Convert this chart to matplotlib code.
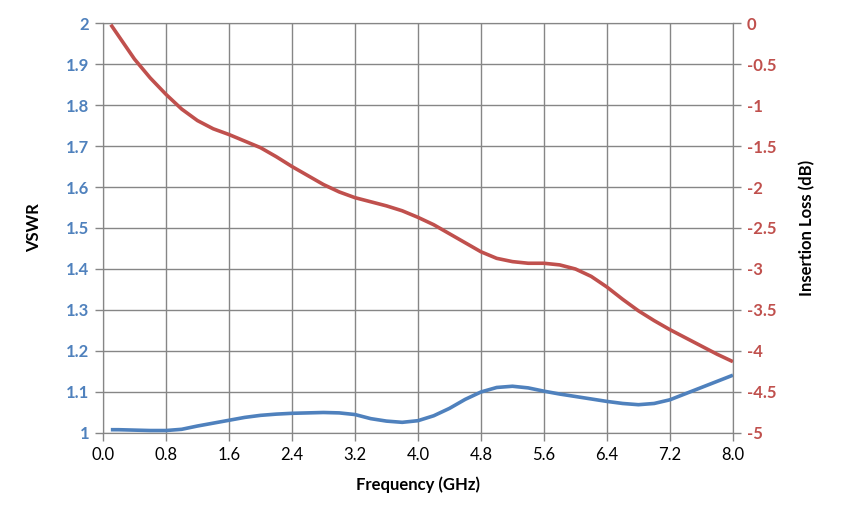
import matplotlib.pyplot as plt

plt.rcParams['font.family'] = ['Lato', 'DejaVu Sans']

freq = [0.1, 0.2, 0.4, 0.6, 0.8, 1.0, 1.2, 1.4, 1.6, 1.8, 2.0,
        2.2, 2.4, 2.6, 2.8, 3.0, 3.2, 3.4, 3.6, 3.8, 4.0,
        4.2, 4.4, 4.6, 4.8, 5.0, 5.2, 5.4, 5.6, 5.8, 6.0,
        6.2, 6.4, 6.6, 6.8, 7.0, 7.2, 7.4, 7.6, 7.8, 8.0]
vswr = [1.008, 1.008, 1.007, 1.006, 1.006, 1.009, 1.017, 1.024, 1.031, 1.038, 1.043,
        1.046, 1.048, 1.049, 1.050, 1.049, 1.045, 1.035, 1.029, 1.026, 1.030,
        1.042, 1.060, 1.082, 1.100, 1.111, 1.114, 1.110, 1.102, 1.095, 1.089,
        1.083, 1.077, 1.072, 1.069, 1.072, 1.081, 1.096, 1.111, 1.126, 1.141]
loss = [-0.02, -0.16, -0.44, -0.67, -0.87, -1.05, -1.19, -1.29, -1.36, -1.44, -1.52,
        -1.63, -1.75, -1.86, -1.97, -2.06, -2.13, -2.18, -2.23, -2.29, -2.37,
        -2.46, -2.57, -2.68, -2.79, -2.87, -2.91, -2.93, -2.93, -2.95, -3.00,
        -3.09, -3.22, -3.37, -3.51, -3.63, -3.74, -3.84, -3.94, -4.04, -4.13]

x_ticks = [0.0, 0.8, 1.6, 2.4, 3.2, 4.0, 4.8, 5.6, 6.4, 7.2, 8.0]
vswr_ticks = [1, 1.1, 1.2, 1.3, 1.4, 1.5, 1.6, 1.7, 1.8, 1.9, 2]
loss_ticks = [0, -0.5, -1, -1.5, -2, -2.5, -3, -3.5, -4, -4.5, -5]

blue = '#4F81BD'
red = '#C0504D'
grid = '#868686'

fig = plt.figure(figsize=(8.44, 5.29), dpi=100)
ax = fig.add_axes([0.122, 0.1815, 0.7464, 0.775])
ax2 = ax.twinx()

ax.plot(freq, vswr, color=blue, lw=2.6, solid_joinstyle='round',
        solid_capstyle='butt', zorder=3)
ax2.plot(freq, loss, color=red, lw=2.6, solid_joinstyle='round',
         solid_capstyle='butt', zorder=3)

ax.set_xlim(0, 8)
ax.set_ylim(1, 2)
ax2.set_ylim(-5, 0)

ax.set_xticks(x_ticks)
ax.set_xticklabels([f'{t:.1f}' for t in x_ticks], fontsize=12)
ax.set_yticks(vswr_ticks)
ax.set_yticklabels([f'{t:g}' for t in vswr_ticks], fontsize=12,
                   color=blue, fontweight='bold')
ax2.set_yticks(loss_ticks)
ax2.set_yticklabels([f'{t:g}' for t in loss_ticks], fontsize=12,
                    color=red, fontweight='bold')

ax.grid(True, color=grid, lw=1)
for a in (ax, ax2):
    for s in a.spines.values():
        s.set_color(grid)
    a.tick_params(color=grid, length=6, width=1, pad=4)
ax2.set_zorder(ax.get_zorder() + 1)
ax2.patch.set_visible(False)

ax.set_xlabel('Frequency (GHz)', fontsize=12, fontweight='bold', labelpad=10)
ax.set_ylabel('VSWR', fontsize=12, fontweight='bold', labelpad=17)
ax2.set_ylabel('Insertion Loss (dB)', fontsize=12, fontweight='bold', labelpad=16)

fig.savefig('out.png', dpi=100)
